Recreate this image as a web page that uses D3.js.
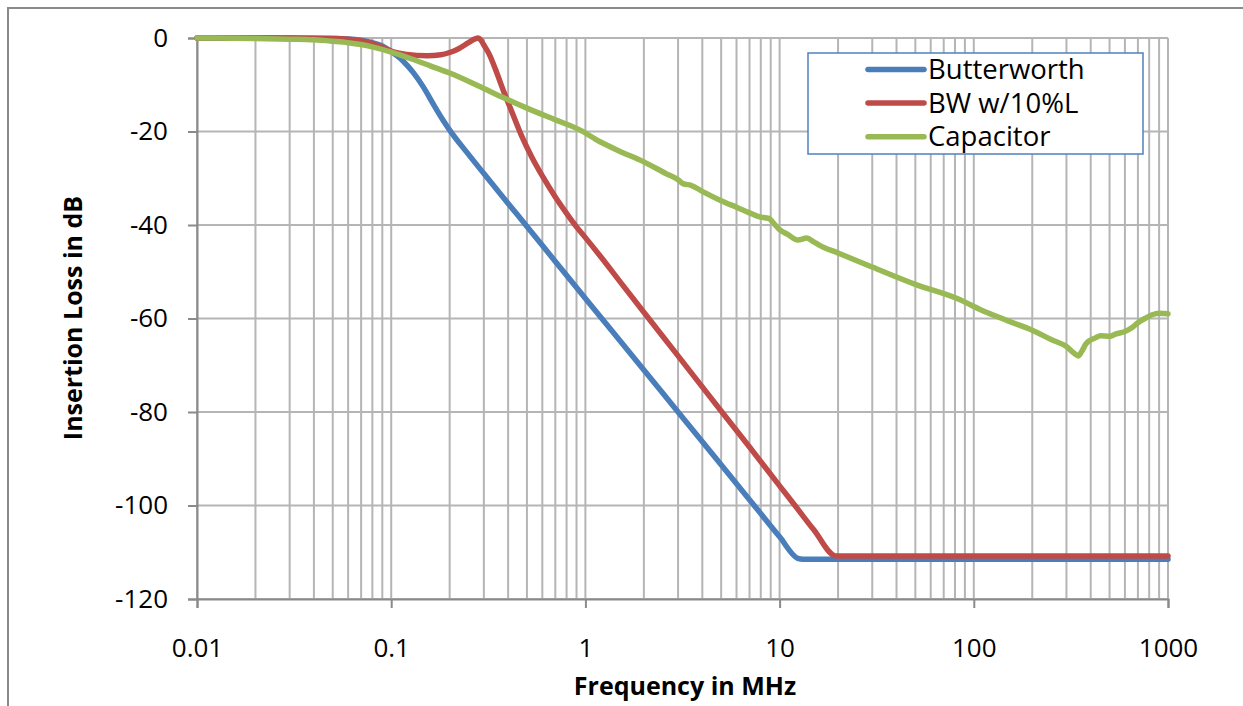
<!DOCTYPE html>
<html><head><meta charset="utf-8">
<script src="https://cdn.jsdelivr.net/npm/d3@7"></script>
<style>
html,body{margin:0;padding:0;background:#fff;}
svg{display:block;}
text{font-family:"Open Sans",sans-serif;fill:#000;}
</style></head>
<body>
<svg id="chart" width="1243" height="706"></svg>
<script>
// ---- data (frequency in MHz, insertion loss in dB) ----
const seriesNames = ["Butterworth", "BW w/10%L", "Capacitor"];
const seriesColors = ["#4a7ebb", "#be4b48", "#98b954"];

const butterFreq = [0.01,0.02,0.03,0.05,0.06,0.07,0.08,0.09,0.1,0.115,0.13,0.146,0.165,0.185,0.2,0.25,0.3,0.4,0.5,0.7,1,2,3,5,7.6,10,12.4,13.2,1000];
const butterLoss = [0,0,0,-0.1,-0.2,-0.5,-1.0,-1.7,-2.9,-4.9,-7.4,-10.4,-14.2,-17.6,-19.7,-24.9,-29,-35.4,-40.3,-47.8,-55.7,-71,-80,-91.3,-100.6,-106.7,-111.3,-111.5,-111.5];

const bwlFreq = [0.01,0.03,0.05,0.07,0.09,0.1,0.12,0.153,0.18,0.2,0.22,0.25,0.27,0.28,0.29,0.30,0.32,0.35,0.38,0.42,0.47,0.53,0.6,0.7,0.8,0.9,1.0,1.2,1.5,2.12,3,5,7,10,12,15,19.5,21,1000];
const bwlLoss = [0,0,-0.1,-0.6,-2.0,-2.8,-3.5,-3.8,-3.6,-3.1,-2.4,-1.0,-0.2,0,-0.5,-1.5,-3.5,-7.5,-11.5,-16,-21,-25.5,-29.5,-34,-37.5,-40.4,-42.7,-46.8,-52,-60,-68,-79.8,-87.5,-95.8,-100,-105.2,-110.8,-110.8,-110.8];

const capFreq = [0.01,0.02,0.03,0.04,0.05,0.06,0.07,0.08,0.1,0.13,0.16,0.2,0.28,0.38,0.5,0.7,0.94,1.19,1.5,2,2.6,3.0,3.2,3.5,4,5,6,7,7.8,8.8,9.4,10,11,12.4,13.8,15,16,20,30,50,85,107,150,200,250,300,330,345,360,380,420,450,500,540,600,650,700,760,830,900,1000];
const capLoss = [0,-0.1,-0.25,-0.4,-0.7,-1.0,-1.4,-1.9,-3.0,-4.6,-6,-7.5,-10.2,-12.8,-15,-17.5,-19.7,-22.2,-24.2,-26.5,-29,-30.3,-31.2,-31.5,-32.8,-34.8,-36.2,-37.4,-38.2,-38.6,-39.8,-41,-42,-43.2,-42.8,-43.6,-44.3,-46,-49,-52.7,-56,-58,-60.5,-62.5,-64.5,-66,-67.5,-68,-67,-65.3,-64.2,-63.7,-63.8,-63.3,-62.8,-62,-60.9,-60,-59.2,-58.9,-59];

const xTickValues = [0.01,0.1,1,10,100,1000];
const xTickLabels = ["0.01","0.1","1","10","100","1000"];
const yTickValues = [0,-20,-40,-60,-80,-100,-120];
const yTickLabels = ["0","-20","-40","-60","-80","-100","-120"];

const xTitle = "Frequency in MHz";
const yTitle = "Insertion Loss in dB";

// ---- layout ----
const svg = d3.select("#chart");
const L = 197, R = 1168, T = 38, B = 599;
const x = d3.scaleLog().domain([0.01, 1000]).range([L, R]);
const y = d3.scaleLinear().domain([-120, 0]).range([B, T]);
const gridColor = "#b5b5b5";
const axisColor = "#8a8a8a";

// outer frame
svg.append("rect").attr("x", 8).attr("y", 8).attr("width", 1260).attr("height", 720)
  .attr("fill", "none").attr("stroke", "#8a8a8a").attr("stroke-width", 2);

// vertical grid (minor + major)
const vgrid = [];
for (let e = -2; e < 3; e++) for (let m = 1; m < 10; m++) vgrid.push(m * Math.pow(10, e));
vgrid.push(1000);
svg.append("g").selectAll("line").data(vgrid).join("line")
  .attr("x1", d => x(d)).attr("x2", d => x(d)).attr("y1", T).attr("y2", B)
  .attr("stroke", gridColor).attr("stroke-width", 2);

// horizontal grid
svg.append("g").selectAll("line").data(yTickValues).join("line")
  .attr("x1", L).attr("x2", R).attr("y1", d => y(d)).attr("y2", d => y(d))
  .attr("stroke", gridColor).attr("stroke-width", 2);

// axes
const xAxis = d3.axisBottom(x).tickValues(xTickValues)
  .tickFormat((d, i) => xTickLabels[i]).tickSize(9).tickPadding(31);
const gx = svg.append("g").attr("transform", `translate(0,${B})`).call(xAxis);
gx.select(".domain").attr("stroke", axisColor).attr("stroke-width", 2);
gx.selectAll(".tick line").attr("stroke", axisColor).attr("stroke-width", 2);
gx.selectAll(".tick text").style("font-family", "'Open Sans',sans-serif").style("font-size", "26px").attr("fill", "#000");

const yAxis = d3.axisLeft(y).tickValues(yTickValues)
  .tickFormat((d, i) => yTickLabels[i]).tickSize(9).tickPadding(20);
const gy = svg.append("g").attr("transform", `translate(${L},0)`).call(yAxis);
gy.select(".domain").attr("stroke", axisColor).attr("stroke-width", 2);
gy.selectAll(".tick line").attr("stroke", axisColor).attr("stroke-width", 2);
gy.selectAll(".tick text").style("font-family", "'Open Sans',sans-serif").style("font-size", "26px").attr("fill", "#000");

// series
const series = [
  {name: seriesNames[0], color: seriesColors[0], f: butterFreq, v: butterLoss},
  {name: seriesNames[1], color: seriesColors[1], f: bwlFreq, v: bwlLoss},
  {name: seriesNames[2], color: seriesColors[2], f: capFreq, v: capLoss}
];
const line = d3.line().x(d => x(d[0])).y(d => y(d[1])).curve(d3.curveMonotoneX);
svg.append("g").selectAll("path").data(series).join("path")
  .attr("d", s => line(s.f.map((f, i) => [f, s.v[i]])))
  .attr("fill", "none").attr("stroke", s => s.color).attr("stroke-width", 5.5)
  .attr("stroke-linejoin", "round").attr("stroke-linecap", "round");

// axis titles
svg.append("text").attr("x", 685).attr("y", 695).attr("text-anchor", "middle")
  .style("font-size", "25px").style("font-weight", "bold").text(xTitle);
svg.append("text").attr("transform", "translate(82,318) rotate(-90)").attr("text-anchor", "middle")
  .style("font-size", "25px").style("font-weight", "bold").text(yTitle);

// legend
const lg = svg.append("g");
lg.append("rect").attr("x", 808).attr("y", 53).attr("width", 335).attr("height", 101)
  .attr("fill", "#fff").attr("stroke", "#4f81bd").attr("stroke-width", 1.5);
series.forEach((s, i) => {
  const yy = 69.5 + i * 33.6;
  lg.append("line").attr("x1", 868).attr("x2", 924).attr("y1", yy).attr("y2", yy)
    .attr("stroke", s.color).attr("stroke-width", 5.5).attr("stroke-linecap", "round");
  lg.append("text").attr("x", 928).attr("y", yy + 9.5).style("font-size", "27.5px").text(s.name);
});
</script>
</body></html>
